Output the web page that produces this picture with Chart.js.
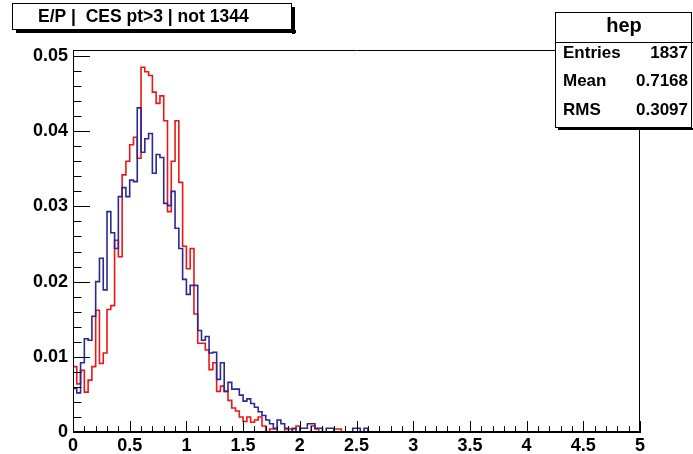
<!DOCTYPE html>
<html><head><meta charset="utf-8">
<script src="https://cdn.jsdelivr.net/npm/chart.js@4.4.1/dist/chart.umd.min.js"></script>
<style>html,body{margin:0;padding:0;background:#fff;}canvas{display:block;}</style>
</head><body>
<canvas id="c" width="693" height="454"></canvas>
<script>
// ---- data (bins of width 1/30 from 0 to 5) ----
const binLow = 0;
const binHigh = 5;
const binCount = 150;
const blueValues = [
0.0058,0.0052,0.0092,0.0124,0.0122,0.0154,0.0200,0.0231,0.0189,0.0293,
0.0265,0.0244,0.0313,0.0325,0.0313,0.0335,0.0333,0.0431,0.0372,0.0390,
0.0397,0.0344,0.0369,0.0365,0.0304,0.0301,0.0320,0.0271,0.0244,0.0203,
0.0183,0.0195,0.0195,0.0135,0.0122,0.0127,0.0105,0.0106,0.0070,0.0092,
0.0054,0.0066,0.0057,0.0057,0.0049,0.0041,0.0044,0.0038,0.0033,0.0027,
0.0022,0.0016,0.0011,0.0005,0.0016,0.0011,0.0005,0,0.0005,0,
0.0005,0.0005,0.0011,0.0011,0.0005,0.0005,0,0.0005,0.0005,0,
0,0,0,0,0.0005,0.0005,0,0.0005,0,0,
0,0,0,0,0,0,0,0,0,0,
0,0,0,0,0,0,0,0,0,0,
0,0,0,0,0,0,0,0,0,0,
0,0,0,0,0,0,0,0,0,0,
0,0,0,0,0,0,0,0,0,0,
0,0,0,0,0,0,0,0,0,0,
0,0,0,0,0,0,0,0,0,0
];
const redValues = [
0.0087,0.0064,0.0082,0.0053,0.0069,0.0087,0.0162,0.0091,0.0105,0.0163,
0.0168,0.0255,0.0233,0.0342,0.0360,0.0382,0.0392,0.0364,0.0485,0.0479,
0.0474,0.0452,0.0437,0.0447,0.0414,0.0293,0.0360,0.0414,0.0332,0.0247,
0.0217,0.0244,0.0157,0.0118,0.0118,0.0109,0.0083,0.0092,0.0054,0.0061,
0.0054,0.0042,0.0032,0.0028,0.0020,0.0014,0.0020,0.0013,0.0016,0.0020,
0.0008,0,0.0004,0.0004,0,0,0.0004,0.0004,0.0004,0.0008,
0,0,0,0.0008,0.0004,0,0,0,0,0.0004,
0.0004,0,0,0,0,0,0,0,0,0,
0,0,0,0,0,0,0,0,0,0,
0,0,0,0,0,0,0,0,0,0,
0,0,0,0,0,0,0,0,0,0,
0,0,0,0,0,0,0,0,0,0,
0,0,0,0,0,0,0,0,0,0,
0,0,0,0,0,0,0,0,0,0,
0,0,0,0,0,0,0,0,0,0
];
const xTickValues = [0,0.5,1,1.5,2,2.5,3,3.5,4,4.5,5];
const xTickLabels = ['0','0.5','1','1.5','2','2.5','3','3.5','4','4.5','5'];
const yTickValues = [0,0.01,0.02,0.03,0.04,0.05];
const yTickLabels = ['0','0.01','0.02','0.03','0.04','0.05'];
const yMax = 0.0508;
const titleText = 'E/P |  CES pt>3 | not 1344';
const statsName = 'hep';
const statsLabels = ['Entries','Mean','RMS'];
const statsValues = ['1837','0.7168','0.3097'];

// ---- build step points ----
function stepPoints(vals){
  const w = (binHigh - binLow) / binCount;
  const pts = vals.map((v,i)=>({x: binLow + i*w, y: v}));
  pts.push({x: binHigh, y: vals[vals.length-1]});
  return pts;
}

const FONT = '"Liberation Sans", Arial, Helvetica, sans-serif';

const rootDecor = {
  id: 'rootDecor',
  afterDatasetsDraw(chart){
    const ctx = chart.ctx, a = chart.chartArea;
    const xs = chart.scales.x, ys = chart.scales.y;
    ctx.save();
    ctx.strokeStyle = '#000'; ctx.lineWidth = 1;
    // frame
    ctx.beginPath();
    ctx.moveTo(Math.round(a.left)+0.5, Math.round(a.top)+0.5);
    ctx.lineTo(Math.round(a.right)-0.5, Math.round(a.top)+0.5);
    ctx.lineTo(Math.round(a.right)-0.5, Math.round(a.bottom)-0.5);
    ctx.lineTo(Math.round(a.left)+0.5, Math.round(a.bottom)-0.5);
    ctx.closePath();
    ctx.stroke();
    // x ticks inside
    const xMajLen = 11, xMinLen = 6;
    ctx.beginPath();
    for (let k = 0; k <= 50; k++){
      const v = k*0.1;
      const px = Math.round(xs.getPixelForValue(v)) + 0.5;
      const len = (k % 5 === 0) ? xMajLen : xMinLen;
      ctx.moveTo(px, a.bottom); ctx.lineTo(px, a.bottom - len);
    }
    // y ticks inside
    const yMajLen = 17, yMinLen = 8.5;
    for (let k = 0; k <= 25; k++){
      const v = k*0.002;
      const py = Math.round(ys.getPixelForValue(v)) + 0.5;
      const len = (k % 5 === 0) ? yMajLen : yMinLen;
      ctx.moveTo(a.left, py); ctx.lineTo(a.left + len, py);
    }
    ctx.stroke();

    // title box with shadow
    const tb = {x: 12, y: 3, w: 280, h: 27};
    ctx.fillStyle = '#000';
    ctx.fillRect(tb.x + 4, tb.y + tb.h, tb.w, 3);
    ctx.fillRect(tb.x + tb.w, tb.y + 4, 3, tb.h);
    ctx.fillStyle = '#fff';
    ctx.fillRect(tb.x, tb.y, tb.w, tb.h);
    ctx.strokeRect(tb.x + 0.5, tb.y + 0.5, tb.w - 1, tb.h - 1);
    ctx.fillStyle = '#000';
    ctx.font = 'bold 17.5px ' + FONT;
    ctx.textAlign = 'left'; ctx.textBaseline = 'middle';
    ctx.fillText(titleText, 38, tb.y + tb.h/2 + 1);

    // stats box
    const sb = {x: 555, y: 12, w: 138, h: 116};
    ctx.fillStyle = '#000';
    ctx.fillRect(sb.x + 3, sb.y + sb.h, sb.w, 2);
    ctx.fillStyle = '#fff';
    ctx.fillRect(sb.x, sb.y, sb.w, sb.h);
    ctx.strokeRect(sb.x + 0.5, sb.y + 0.5, sb.w - 2, sb.h - 1);
    ctx.beginPath();
    ctx.moveTo(sb.x, 42.5); ctx.lineTo(sb.x + sb.w, 42.5); ctx.stroke();
    ctx.fillStyle = '#000';
    ctx.font = 'bold 20px ' + FONT;
    ctx.textAlign = 'center';
    ctx.fillText(statsName, 624, 26);
    ctx.font = 'bold 17px ' + FONT;
    const rowsY = [53, 81, 110];
    statsLabels.forEach((lab, i) => {
      ctx.textAlign = 'left';
      ctx.fillText(lab, 563, rowsY[i]);
      ctx.textAlign = 'right';
      ctx.fillText(statsValues[i], 688, rowsY[i]);
    });
    ctx.restore();
  }
};

new Chart(document.getElementById('c'), {
  type: 'line',
  data: {
    datasets: [
      { label: 'blue', data: stepPoints(blueValues), borderColor: '#2a2a96', borderWidth: 1.6,
        stepped: 'before', pointRadius: 0, fill: false, tension: 0 },
      { label: 'red', data: stepPoints(redValues), borderColor: '#f01515', borderWidth: 1.6,
        stepped: 'before', pointRadius: 0, fill: false, tension: 0 }
    ]
  },
  options: {
    responsive: false,
    animation: false,
    devicePixelRatio: 1,
    layout: { padding: { left: 0, top: 50, right: 53, bottom: 0 } },
    plugins: { legend: { display: false }, tooltip: { enabled: false }, title: { display: false } },
    scales: {
      x: {
        type: 'linear', min: 0, max: 5,
        grid: { display: false, drawTicks: false },
        border: { display: true, color: '#000', width: 1 },
        afterBuildTicks: s => { s.ticks = xTickValues.map(v => ({ value: v })); },
        afterFit: s => { s.height = 22; },
        ticks: { autoSkip: false, maxRotation: 0, padding: 3, color: '#000',
          font: { family: FONT, size: 18, weight: 'bold' },
          callback: (v, i) => xTickLabels[i] }
      },
      y: {
        type: 'linear', min: 0, max: yMax,
        grid: { display: false, drawTicks: false },
        border: { display: true, color: '#000', width: 1 },
        afterBuildTicks: s => { s.ticks = yTickValues.map(v => ({ value: v })); },
        afterFit: s => { s.width = 73; },
        ticks: { autoSkip: false, padding: 5, color: '#000',
          font: { family: FONT, size: 18, weight: 'bold' },
          callback: (v, i) => yTickLabels[i] }
      }
    }
  },
  plugins: [rootDecor]
});
</script>
</body></html>
